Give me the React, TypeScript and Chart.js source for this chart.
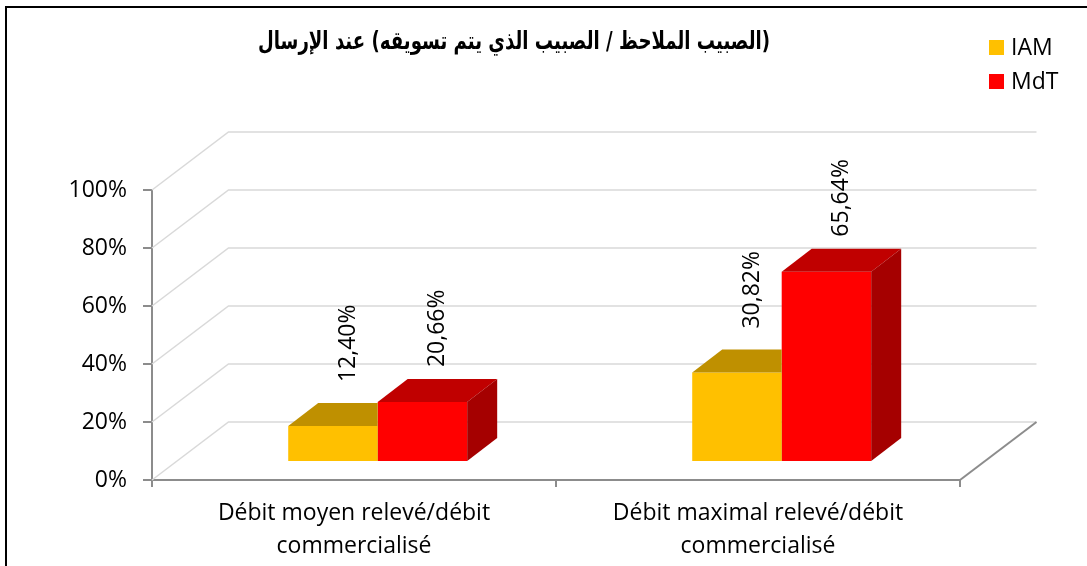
import React, { useEffect, useRef } from 'react';
import { Chart, registerables } from 'chart.js';

Chart.register(...registerables);

// ---- data ----
const categories: string[][] = [
  ['Débit moyen relevé/débit', 'commercialisé'],
  ['Débit maximal relevé/débit', 'commercialisé'],
];
const seriesNames = ['IAM', 'MdT'];
const iamValues = [12.4, 30.82];
const mdtValues = [20.66, 65.64];
const yMin = 0;
const yMax = 100;
const yStep = 20;
const titleText = '(الصبيب الملاحظ / الصبيب الذي يتم تسويقه) عند الإرسال';

// ---- styles ----
const frontColors = ['#FFC000', '#FF0000'];
const topColors = ['#BF9000', '#C00000'];
const sideColors = ['#A67D00', '#A50000'];
const labelGaps = [21, 12];
const FONT = '"Open Sans", sans-serif';
const FONT_SIZE = 23;

// oblique projection constants
const DEPTH_DX = 76.5;
const DEPTH_DY = -58;
const BAR_SHIFT_X = 23.7;
const BAR_SHIFT_Y = -18;
const BAR_DX = 30;
const BAR_DY = -23;

const fmt = (v: number) => v.toFixed(2).replace('.', ',') + '%';

const excel3d = {
  id: 'excel3d',
  beforeDraw(chart: any) {
    const ctx = chart.ctx as CanvasRenderingContext2D;
    ctx.save();
    ctx.fillStyle = '#ffffff';
    ctx.fillRect(0, 0, chart.width, chart.height);
    // frame
    ctx.strokeStyle = '#000000';
    ctx.lineWidth = 2;
    ctx.beginPath();
    ctx.moveTo(6, chart.height);
    ctx.lineTo(6, 7);
    ctx.lineTo(chart.width, 7);
    ctx.stroke();
    // title
    ctx.fillStyle = '#000000';
    (ctx as any).direction = 'rtl';
    ctx.font = 'bold 25px "DejaVu Sans", sans-serif';
    ctx.textAlign = 'center';
    ctx.textBaseline = 'middle';
    ctx.fillText(titleText, 514, 42, 512);
    (ctx as any).direction = 'ltr';
    // legend
    ctx.font = `${FONT_SIZE}px ${FONT}`;
    ctx.textAlign = 'left';
    seriesNames.forEach((name, i) => {
      const yy = 40 + i * 34;
      ctx.fillStyle = frontColors[i];
      ctx.fillRect(989, yy, 15, 15);
      ctx.fillStyle = '#000000';
      ctx.fillText(name, 1011, yy + 8);
    });
    ctx.restore();
  },
  beforeDatasetsDraw(chart: any) {
    const ctx = chart.ctx as CanvasRenderingContext2D;
    const area = chart.chartArea;
    const y = chart.scales.y;
    ctx.save();
    ctx.lineWidth = 1.5;
    ctx.strokeStyle = '#d9d9d9';
    y.ticks.forEach((t: any) => {
      const py = y.getPixelForValue(t.value);
      ctx.beginPath();
      ctx.moveTo(area.left, py);
      ctx.lineTo(area.left + DEPTH_DX, py + DEPTH_DY);
      ctx.lineTo(area.right + DEPTH_DX, py + DEPTH_DY);
      ctx.stroke();
    });
    ctx.strokeStyle = '#8c8c8c';
    ctx.lineWidth = 2;
    ctx.beginPath();
    ctx.moveTo(area.right, area.bottom);
    ctx.lineTo(area.right + DEPTH_DX, area.bottom + DEPTH_DY);
    ctx.stroke();
    ctx.restore();
    ctx.save();
    ctx.translate(BAR_SHIFT_X, BAR_SHIFT_Y);
  },
  afterDatasetsDraw(chart: any) {
    const ctx = chart.ctx as CanvasRenderingContext2D;
    const n = chart.data.datasets.length;
    for (let di = n - 1; di >= 0; di--) {
      const meta = chart.getDatasetMeta(di);
      meta.data.forEach((bar: any) => {
        const { x, y, base, width } = bar.getProps(['x', 'y', 'base', 'width'], true);
        const left = x - width / 2;
        const right = x + width / 2;
        ctx.save();
        if (di < n - 1) {
          ctx.beginPath();
          ctx.rect(0, 0, right, chart.height);
          ctx.clip();
        }
        ctx.fillStyle = topColors[di];
        ctx.beginPath();
        ctx.moveTo(left, y);
        ctx.lineTo(right, y);
        ctx.lineTo(right + BAR_DX, y + BAR_DY);
        ctx.lineTo(left + BAR_DX, y + BAR_DY);
        ctx.closePath();
        ctx.fill();
        ctx.fillStyle = sideColors[di];
        ctx.beginPath();
        ctx.moveTo(right, y);
        ctx.lineTo(right + BAR_DX, y + BAR_DY);
        ctx.lineTo(right + BAR_DX, base + BAR_DY);
        ctx.lineTo(right, base);
        ctx.closePath();
        ctx.fill();
        ctx.restore();
      });
    }
    // data labels
    chart.data.datasets.forEach((ds: any, di: number) => {
      const meta = chart.getDatasetMeta(di);
      meta.data.forEach((bar: any, i: number) => {
        const { x, y } = bar.getProps(['x', 'y'], true);
        ctx.save();
        ctx.translate(x + BAR_DX / 2, y + BAR_DY - labelGaps[di]);
        ctx.rotate(-Math.PI / 2);
        ctx.font = `${FONT_SIZE}px ${FONT}`;
        ctx.fillStyle = '#000000';
        ctx.textAlign = 'left';
        ctx.textBaseline = 'middle';
        ctx.fillText(fmt(ds.data[i]), 0, 0);
        ctx.restore();
      });
    });
    ctx.restore();
  },
};

export default function App() {
  const ref = useRef<HTMLCanvasElement | null>(null);
  useEffect(() => {
    document.body.style.margin = '0';
    const canvas = ref.current;
    if (!canvas) return;
    const chart = new Chart(canvas, {
      type: 'bar',
      data: {
        labels: categories,
        datasets: [
          {
            label: seriesNames[0],
            data: iamValues,
            backgroundColor: frontColors[0],
            borderWidth: 0,
            barPercentage: 1,
            categoryPercentage: 0.443,
            clip: false as any,
          },
          {
            label: seriesNames[1],
            data: mdtValues,
            backgroundColor: frontColors[1],
            borderWidth: 0,
            barPercentage: 1,
            categoryPercentage: 0.443,
            clip: false as any,
          },
        ],
      },
      options: {
        responsive: false,
        animation: false,
        devicePixelRatio: 1,
        layout: { padding: { left: 0, top: 190, right: 127, bottom: 0 } },
        plugins: {
          legend: { display: false },
          title: { display: false },
          tooltip: { enabled: false },
        },
        scales: {
          x: {
            offset: true,
            grid: {
              offset: true,
              drawOnChartArea: false,
              drawTicks: true,
              tickLength: 7,
              color: '#8c8c8c',
              lineWidth: 2,
            },
            border: { color: '#8c8c8c', width: 2 },
            ticks: {
              color: '#000000',
              font: { family: FONT, size: FONT_SIZE, lineHeight: 33 / FONT_SIZE },
              padding: 9.5,
              maxRotation: 0,
              minRotation: 0,
              autoSkip: false,
            },
            afterFit: (s: any) => {
              s.height = 86;
            },
          },
          y: {
            min: yMin,
            max: yMax,
            grid: {
              drawOnChartArea: false,
              drawTicks: true,
              tickLength: 9,
              color: '#8c8c8c',
              lineWidth: 2,
            },
            border: { color: '#8c8c8c', width: 2 },
            ticks: {
              stepSize: yStep,
              color: '#000000',
              font: { family: FONT, size: FONT_SIZE },
              padding: 16,
              callback: (v: any) => `${v}%`,
            },
            afterFit: (s: any) => {
              s.width = 152;
            },
          },
        },
      },
      plugins: [excel3d],
    });
    return () => chart.destroy();
  }, []);
  return (
    <canvas
      ref={ref}
      width={1087}
      height={566}
      style={{ display: 'block', width: '1087px', height: '566px' }}
    />
  );
}
